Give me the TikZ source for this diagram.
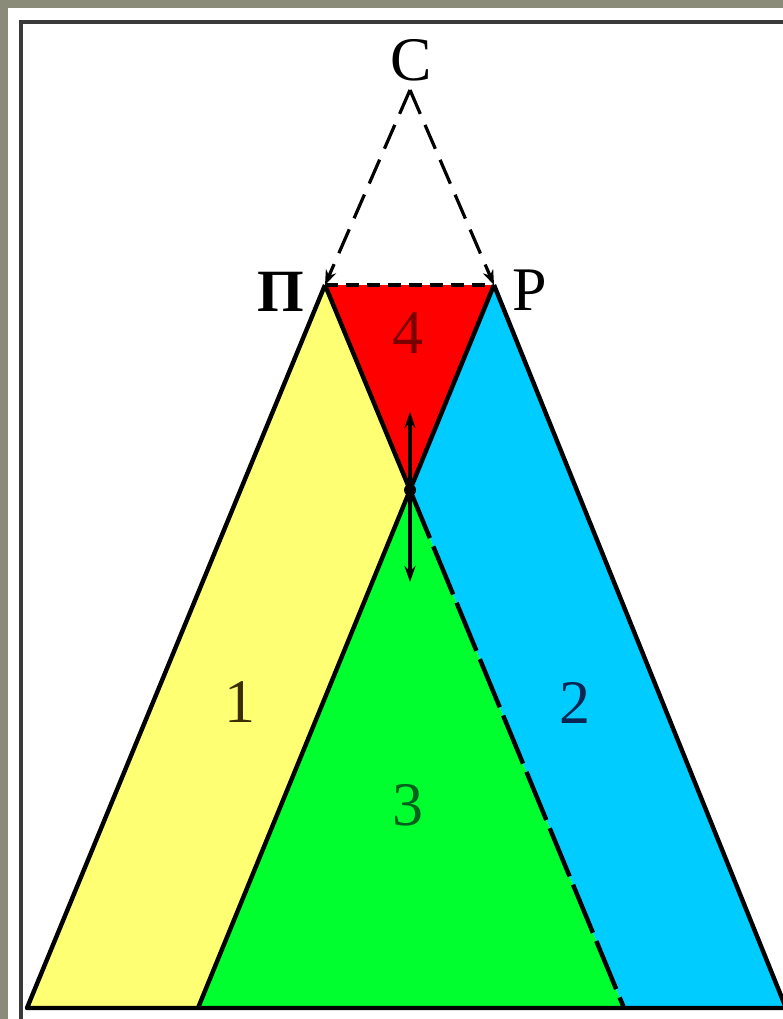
\documentclass[tikz,border=0pt]{standalone}
\usepackage{fontspec}
\setmainfont{Liberation Serif}
\usetikzlibrary{arrows.meta}
\definecolor{bgcheck}{HTML}{8A8B78}
\definecolor{framec}{HTML}{3A3A3A}
\definecolor{yel}{HTML}{FFFF73}
\definecolor{grn}{HTML}{00FF2E}
\definecolor{blu}{HTML}{00CCFF}
\definecolor{rd}{HTML}{FF0000}
\definecolor{t1}{HTML}{3A2E05}
\definecolor{t2}{HTML}{0B2452}
\definecolor{t3}{HTML}{00601C}
\definecolor{t4}{HTML}{7A0000}
\tikzset{
  edge/.style={draw=black, line width=4.4pt, line join=round},
  longdash/.style={draw=black, line width=4.4pt, dash pattern=on 52pt off 9pt},
  topdash/.style={draw=black, line width=4pt, dash pattern=on 13pt off 8pt},
  sidedash/.style={draw=black, line width=3.2pt, dash pattern=on 26pt off 12pt, -{Stealth[length=15pt,width=11pt]}},
  smallarrow/.style={draw=black, line width=3.4pt, -{Stealth[length=16pt,width=11pt]}},
  lbl/.style={inner sep=0pt, font=\fontsize{62}{62}\selectfont},
}
\begin{document}
\begin{tikzpicture}[x=1pt,y=-1pt]
\useasboundingbox (0,0) rectangle (783,1019);
\clip (0,0) rectangle (783,1019);
% background and frame
\fill[bgcheck] (0,0) rectangle (783,1019);
\fill[white] (8,8) rectangle (783,1019);
\draw[framec, line width=4pt] (21,1019) -- (21,22) -- (783,22);
% key points
\coordinate (Ctop) at (410,90);
\coordinate (Pi) at (325,285);
\coordinate (P) at (494,285);
\coordinate (O) at (410,490);
\coordinate (YL) at (27,1008);
\coordinate (YR) at (198,1008);
\coordinate (GR) at (624,1008);
\coordinate (BR) at (786,1008);
\coordinate (Up) at (410,412);
\coordinate (Dn) at (410,582);
% fills
\fill[yel] (Pi) -- (O) -- (YR) -- (YL) -- cycle;
\fill[blu] (P) -- (BR) -- (GR) -- (O) -- cycle;
\fill[grn] (O) -- (GR) -- (YR) -- cycle;
\fill[rd] (Pi) -- (P) -- (O) -- cycle;
% edges
\draw[edge] (Pi) -- (YL) -- (BR) -- (P);
\draw[edge] (P) -- (O) -- (YR);
\draw[edge] (Pi) -- (O);
\draw[longdash] (O) -- (GR);
\draw[topdash] (Pi) -- (P);
\draw[sidedash] (Ctop) -- (Pi);
\draw[sidedash] (Ctop) -- (P);
\draw[smallarrow] (O) -- (Up);
\draw[smallarrow] (O) -- (Dn);
\fill[black] (O) circle (6pt);
% labels
\node[lbl] (lC) at (411,60) {C};
\node[lbl, font=\fontsize{60}{60}\selectfont\bfseries] (lPi) at (281,292) {Π};
\node[lbl] (lP) at (530,290) {P};
\node[lbl, text=t4] (l4) at (408,333) {4};
\node[lbl, text=t1] (l1) at (240,702) {1};
\node[lbl, text=t2] (l2) at (575,703) {2};
\node[lbl, text=t3] (l3) at (408,805) {3};
\end{tikzpicture}
\end{document}
